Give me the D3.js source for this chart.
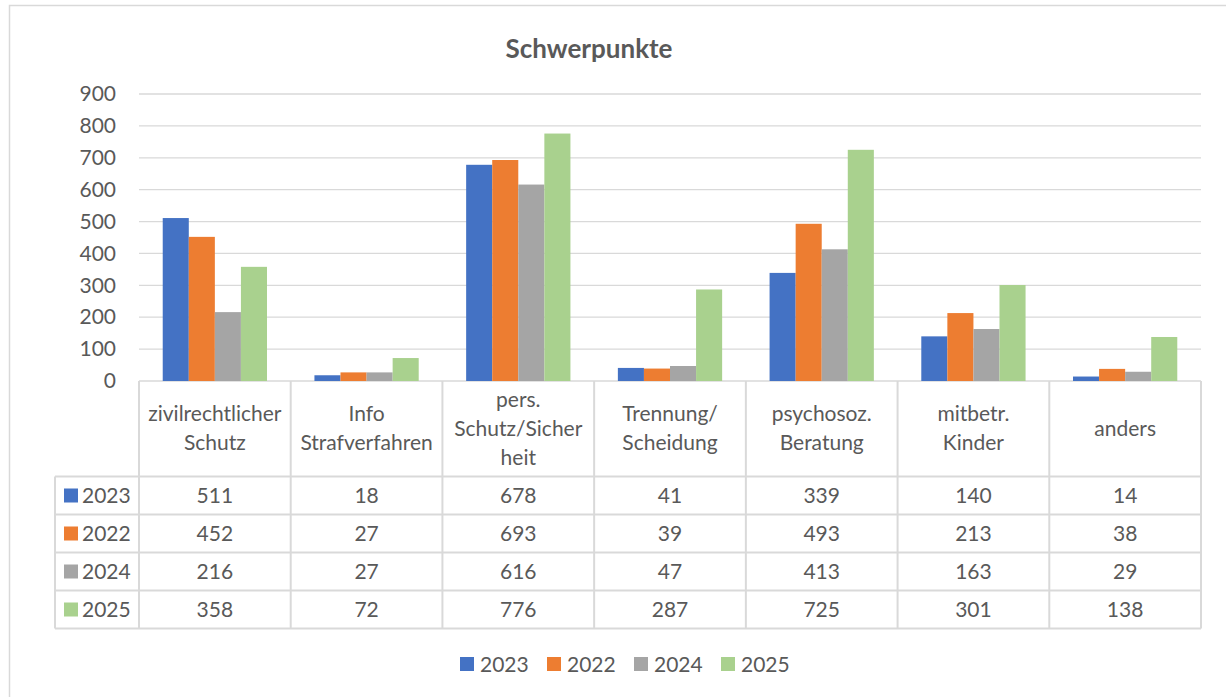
<!DOCTYPE html>
<html>
<head>
<meta charset="utf-8">
<script src="https://cdn.jsdelivr.net/npm/d3@7"></script>
<style>
  body { margin: 0; background: #fff; }
  text { font-family: Lato, "Open Sans", sans-serif; fill: #595959; }
</style>
</head>
<body>
<div id="vis"></div>
<script>
// data
const categories = ["zivilrechtlicher Schutz", "Info Strafverfahren", "pers. Schutz/Sicherheit",
    "Trennung/ Scheidung", "psychosoz. Beratung", "mitbetr. Kinder", "anders"];
const categoryLines = [["zivilrechtlicher", "Schutz"], ["Info", "Strafverfahren"],
    ["pers.", "Schutz/Sicher", "heit"], ["Trennung/", "Scheidung"], ["psychosoz.", "Beratung"],
    ["mitbetr.", "Kinder"], ["anders"]];
const seriesNames = ["2023", "2022", "2024", "2025"];
const seriesColors = ["#4472c4", "#ed7d31", "#a5a5a5", "#a9d18e"];
const values2023 = [511, 18, 678, 41, 339, 140, 14];
const values2022 = [452, 27, 693, 39, 493, 213, 38];
const values2024 = [216, 27, 616, 47, 413, 163, 29];
const values2025 = [358, 72, 776, 287, 725, 301, 138];
const yTicks = [0, 100, 200, 300, 400, 500, 600, 700, 800, 900];

const series = [values2023, values2022, values2024, values2025];

const width = 1226, height = 697;
const plotLeft = 139, plotRight = 1201, plotTop = 94, plotBottom = 381;
const tableLeft = 55;
const headerBottom = 476.5, rowH = 38;
const fs = "21px";

const svg = d3.select("#vis").append("svg")
    .attr("width", width)
    .attr("height", height);

// outer chart border
svg.append("rect")
    .attr("x", 9.5).attr("y", 5.5)
    .attr("width", 1230).attr("height", 720)
    .attr("fill", "#fff")
    .attr("stroke", "#d9d9d9")
    .attr("stroke-width", 1.5);

svg.append("text")
    .attr("x", 589).attr("y", 58)
    .attr("text-anchor", "middle")
    .style("font-size", "26px")
    .style("font-weight", "bold")
    .text("Schwerpunkte");

const x = d3.scaleBand().domain(categories).range([plotLeft, plotRight]);
const x1 = d3.scaleBand().domain(seriesNames).range([0, x.bandwidth()]).paddingOuter(0.91).paddingInner(0);
const y = d3.scaleLinear().domain([0, 900]).range([plotBottom, plotTop]);

// gridlines
svg.append("g")
    .selectAll("line")
    .data(yTicks)
    .join("line")
    .attr("x1", plotLeft).attr("x2", plotRight)
    .attr("y1", d => y(d)).attr("y2", d => y(d))
    .attr("stroke", "#d9d9d9")
    .attr("stroke-width", 1.3);

// y axis labels
const yAxis = d3.axisLeft(y).tickValues(yTicks).tickSize(0).tickPadding(0);
svg.append("g")
    .attr("transform", `translate(116,0)`)
    .call(yAxis)
    .call(g => g.select(".domain").remove())
    .call(g => g.selectAll("text")
        .style("font-size", fs)
        .style("font-family", "Lato, sans-serif")
        .attr("fill", "#595959"));

// bars
const groups = svg.append("g")
    .selectAll("g")
    .data(categories)
    .join("g")
    .attr("transform", d => `translate(${x(d)},0)`);

groups.selectAll("rect")
    .data((d, i) => seriesNames.map((s, j) => ({ s, v: series[j][i], c: seriesColors[j] })))
    .join("rect")
    .attr("x", d => x1(d.s))
    .attr("width", x1.bandwidth())
    .attr("y", d => y(d.v))
    .attr("height", d => y(0) - y(d.v))
    .attr("fill", d => d.c);

// data table
const table = svg.append("g");
const tableBottom = headerBottom + rowH * seriesNames.length;
const gridStroke = "#d9d9d9";

// vertical lines
const vx = categories.map(c => x(c)).concat([plotRight]);
table.selectAll(".vline")
    .data(vx)
    .join("line")
    .attr("x1", d => d).attr("x2", d => d)
    .attr("y1", plotBottom).attr("y2", tableBottom)
    .attr("stroke", gridStroke).attr("stroke-width", 2);
table.append("line")
    .attr("x1", tableLeft).attr("x2", tableLeft)
    .attr("y1", headerBottom).attr("y2", tableBottom)
    .attr("stroke", gridStroke).attr("stroke-width", 2);

// horizontal lines
const hy = d3.range(seriesNames.length + 1).map(i => headerBottom + i * rowH);
table.selectAll(".hline")
    .data(hy)
    .join("line")
    .attr("x1", tableLeft).attr("x2", plotRight)
    .attr("y1", d => d).attr("y2", d => d)
    .attr("stroke", gridStroke).attr("stroke-width", 2);

// header texts
const headerMid = (plotBottom + headerBottom) / 2 + 7;
categories.forEach((c, i) => {
    const lines = categoryLines[i];
    const t = table.append("text")
        .attr("text-anchor", "middle")
        .style("font-size", fs);
    lines.forEach((l, k) => {
        t.append("tspan")
            .attr("x", x(c) + x.bandwidth() / 2)
            .attr("y", headerMid + (k - (lines.length - 1) / 2) * 29)
            .text(l);
    });
});

// rows
seriesNames.forEach((s, j) => {
    const cy = headerBottom + j * rowH + rowH / 2;
    table.append("rect")
        .attr("x", 64).attr("y", cy - 7)
        .attr("width", 14).attr("height", 14)
        .attr("fill", seriesColors[j]);
    table.append("text")
        .attr("x", 82).attr("y", cy + 7.5)
        .style("font-size", fs)
        .text(s);
    categories.forEach((c, i) => {
        table.append("text")
            .attr("x", x(c) + x.bandwidth() / 2)
            .attr("y", cy + 7.5)
            .attr("text-anchor", "middle")
            .style("font-size", fs)
            .text(series[j][i]);
    });
});

// legend
const legendX = [460, 547, 634, 721];
const legend = svg.append("g");
seriesNames.forEach((s, j) => {
    legend.append("rect")
        .attr("x", legendX[j]).attr("y", 657)
        .attr("width", 14).attr("height", 14)
        .attr("fill", seriesColors[j]);
    legend.append("text")
        .attr("x", legendX[j] + 20).attr("y", 672)
        .style("font-size", fs)
        .text(s);
});
</script>
</body>
</html>
